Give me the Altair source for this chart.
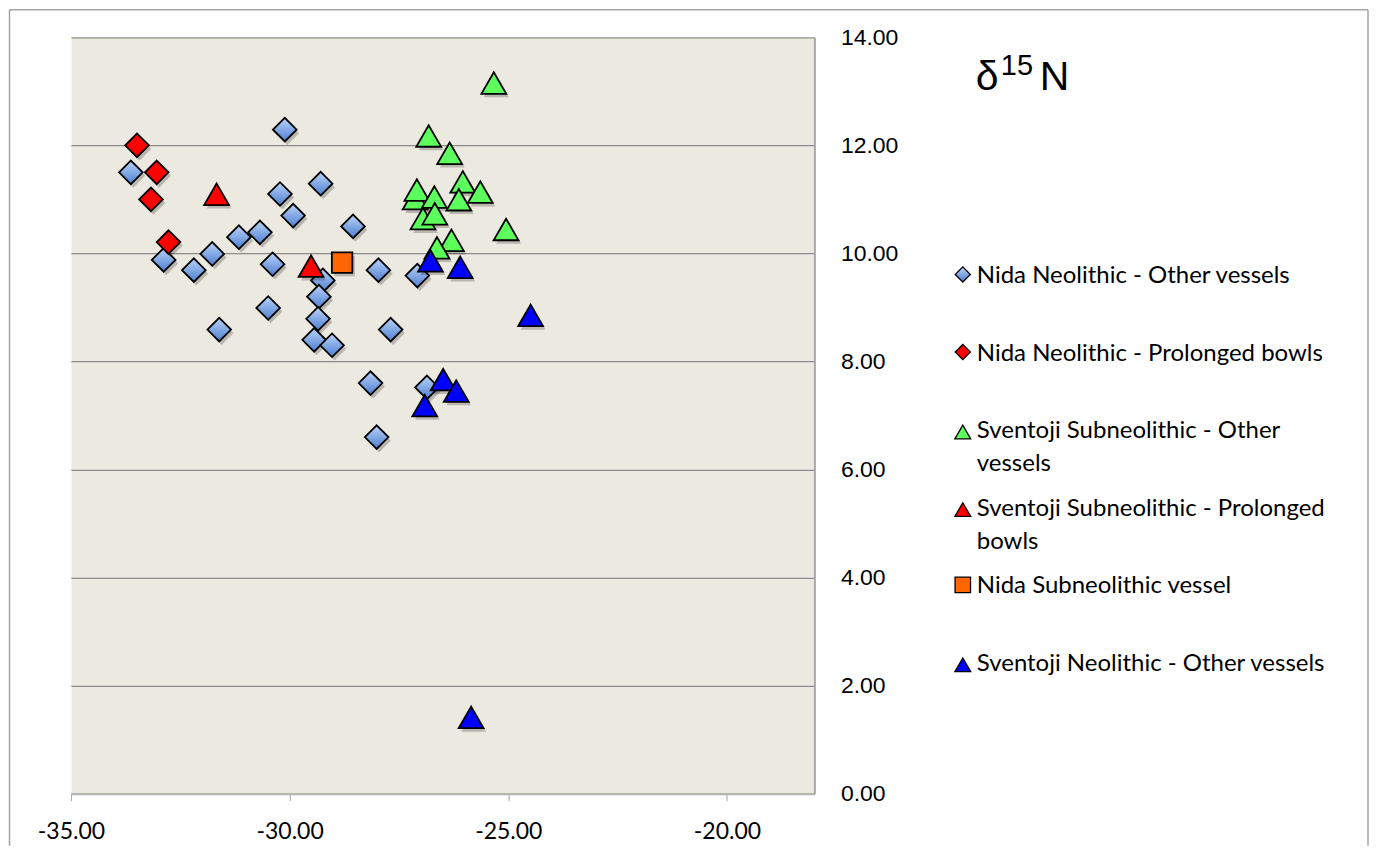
import altair as alt
import pandas as pd

# ---------------- data ----------------
series_names = [
    "Nida Neolithic - Other vessels",
    "Nida Neolithic - Prolonged bowls",
    "Sventoji Subneolithic - Other vessels",
    "Sventoji Subneolithic - Prolonged bowls",
    "Nida Subneolithic vessel",
    "Sventoji Neolithic - Other vessels",
]
legend_labels = [
    "Nida Neolithic - Other vessels",
    "Nida Neolithic - Prolonged bowls",
    "Sventoji Subneolithic - Other\nvessels",
    "Sventoji Subneolithic - Prolonged\nbowls",
    "Nida Subneolithic vessel",
    "Sventoji Neolithic - Other vessels",
]
legend_rows = [0, 1, 2, 3, 4, 5]

nida_other_x = [-30.11, -33.63, -29.29, -30.22, -29.92, -28.55, -30.68, -31.16, -31.77,
                -32.88, -32.19, -30.39, -29.24, -29.33, -29.35, -29.44, -29.03, -30.49,
                -31.61, -27.97, -27.08, -27.69, -28.15, -28.01, -26.86]
nida_other_y = [12.29, 11.50, 11.29, 11.10, 10.70, 10.50, 10.39, 10.30, 9.99,
                9.88, 9.69, 9.80, 9.50, 9.20, 8.79, 8.40, 8.30, 8.99,
                8.59, 9.69, 9.59, 8.59, 7.60, 6.60, 7.52]

nida_bowls_x = [-33.49, -33.04, -33.17, -32.77]
nida_bowls_y = [12.00, 11.50, 11.00, 10.21]

sv_sub_other_x = [-25.33, -26.82, -26.34, -26.04, -25.64, -27.13, -27.09, -26.69, -26.13,
                  -26.95, -26.68, -25.05, -26.30, -26.63]
sv_sub_other_y = [13.22, 12.24, 11.92, 11.39, 11.20, 11.08, 11.24, 11.11, 11.06,
                  10.71, 10.80, 10.51, 10.31, 10.17]

sv_sub_bowls_x = [-31.67, -29.51]
sv_sub_bowls_y = [11.16, 9.83]

nida_subneo_x = [-28.80]
nida_subneo_y = [9.83]

sv_neo_other_x = [-26.78, -26.10, -24.49, -26.49, -26.19, -26.91, -25.85]
sv_neo_other_y = [9.93, 9.81, 8.92, 7.73, 7.52, 7.25, 1.48]

x_ticks = [-35, -30, -25, -20]
y_ticks = [0, 2, 4, 6, 8, 10, 12, 14]

all_x = [nida_other_x, nida_bowls_x, sv_sub_other_x, sv_sub_bowls_x, nida_subneo_x, sv_neo_other_x]
all_y = [nida_other_y, nida_bowls_y, sv_sub_other_y, sv_sub_bowls_y, nida_subneo_y, sv_neo_other_y]

rows = []
for name, xs, ys in zip(series_names, all_x, all_y):
    for xv, yv in zip(xs, ys):
        rows.append({"series": name, "d13c": xv, "d15n": yv})
df = pd.DataFrame(rows)

legend_df = pd.DataFrame({"series": series_names, "label": legend_labels, "row": legend_rows})

# ---------------- styles ----------------
blue_gradient = {
    "gradient": "linear",
    "x1": 0, "y1": 0, "x2": 0, "y2": 1,
    "stops": [
        {"offset": 0, "color": "#B9D3F8"},
        {"offset": 1, "color": "#4D7FD1"},
    ],
}
styles = [
    {"shape": "diamond", "fill": blue_gradient, "size": 560, "dy": 0},
    {"shape": "diamond", "fill": "#FF0000", "size": 560, "dy": 0},
    {"shape": "triangle-up", "fill": "#5CFF5C", "size": 620, "dy": 3.6},
    {"shape": "triangle-up", "fill": "#FF0000", "size": 620, "dy": 3.6},
    {"shape": "square", "fill": "#FF6600", "size": 420, "dy": 0},
    {"shape": "triangle-up", "fill": "#0000FF", "size": 620, "dy": 3.6},
]
legend_sizes = [230, 230, 250, 250, 240, 250]
legend_dy = [0, 0, 2.3, 2.3, 0, 2.3]

# ---------------- main plot ----------------
x_enc = alt.X(
    "d13c:Q",
    scale=alt.Scale(domain=[-35, -18], nice=False, zero=False),
    axis=alt.Axis(
        values=x_ticks,
        labelExpr="(datum.value < 0 ? '-' : '') + format(abs(datum.value), '.2f')",
        labelFlush=False,
        grid=False,
        ticks=True,
        tickSize=7,
        tickColor="#A6A6A6",
        tickWidth=1,
        domain=True,
        domainColor="#B3B3B3",
        domainWidth=2,
        labelFont="Lato",
        labelFontSize=23,
        labelColor="#000000",
        labelPadding=20,
        title=None,
    ),
)
y_enc = alt.Y(
    "d15n:Q",
    scale=alt.Scale(domain=[0, 14], nice=False, zero=True),
    axis=alt.Axis(
        orient="right",
        values=y_ticks,
        format=".2f",
        grid=True,
        gridColor="#8C8C8C",
        gridWidth=1.3,
        ticks=False,
        domain=True,
        domainColor="#A8A8A8",
        domainWidth=2,
        labelFont="Liberation Sans",
        labelFontSize=23,
        labelColor="#000000",
        labelPadding=26,
        labelAlign="left",
        title=None,
    ),
)

layers = []
for name, st in zip(series_names, styles):
    base = alt.Chart(df).transform_filter(alt.datum.series == name)
    shadow = base.mark_point(
        shape=st["shape"], size=st["size"], filled=True, fill="#000000",
        opacity=0.22, strokeWidth=0, xOffset=2.5, yOffset=3.5 + st["dy"],
    ).encode(x=x_enc, y=y_enc)
    marker = base.mark_point(
        shape=st["shape"], size=st["size"], filled=True, fill=st["fill"],
        stroke="#000000", strokeWidth=1.8, opacity=1, yOffset=st["dy"],
    ).encode(x=x_enc, y=y_enc)
    layers += [shadow, marker]

# thin outer frame of the chart object (left, top, right edges)
frame_df = pd.DataFrame({"f": [0]})
frame_style = dict(color="#A3A3A3", strokeWidth=1.5)
frame_left = alt.Chart(frame_df).mark_rule(**frame_style).encode(
    x=alt.value(-61.5), y=alt.value(-27.5), y2=alt.value(809))
frame_top = alt.Chart(frame_df).mark_rule(**frame_style).encode(
    x=alt.value(-61.5), x2=alt.value(1298), y=alt.value(-27.5))
frame_right = alt.Chart(frame_df).mark_rule(**frame_style).encode(
    x=alt.value(1298), y=alt.value(-27.5), y2=alt.value(809))

main = alt.layer(frame_left, frame_top, frame_right, *layers).properties(
    width=744, height=757,
    view=alt.ViewBackground(fill="#ECEAE0", stroke="transparent"),
)

# ---------------- legend panel ----------------
leg_y = alt.Y(
    "row:Q",
    scale=alt.Scale(domain=[-3.055, 6.690], reverse=True, nice=False, zero=False),
    axis=None,
)
leg_layers = []
for i, (name, st) in enumerate(zip(series_names, styles)):
    leg_layers.append(
        alt.Chart(legend_df).transform_filter(alt.datum.series == name).mark_point(
            shape=st["shape"], size=legend_sizes[i], filled=True, fill=st["fill"],
            stroke="#000000", strokeWidth=1.3, opacity=1, yOffset=legend_dy[i],
        ).encode(x=alt.value(9), y=leg_y)
    )
leg_text = alt.Chart(legend_df).mark_text(
    align="left", baseline="top", dy=-10.5, font="Lato", fontSize=24,
    lineBreak="\n", lineHeight=33, color="#000000",
).encode(x=alt.value(23), y=leg_y, text="label:N")

title_parts = pd.DataFrame({"part": ["δ", "15", "N"]})
t_delta = alt.Chart(title_parts).transform_filter(alt.datum.part == "δ").mark_text(
    align="left", baseline="alphabetic", font="Liberation Sans", fontSize=41, color="#000000"
).encode(x=alt.value(22), y=alt.value(53), text="part:N")
t_sup = alt.Chart(title_parts).transform_filter(alt.datum.part == "15").mark_text(
    align="left", baseline="alphabetic", font="Liberation Sans", fontSize=29, color="#000000"
).encode(x=alt.value(47), y=alt.value(38), text="part:N")
t_n = alt.Chart(title_parts).transform_filter(alt.datum.part == "N").mark_text(
    align="left", baseline="alphabetic", font="Liberation Sans", fontSize=41, color="#000000"
).encode(x=alt.value(86), y=alt.value(53), text="part:N")

legend = alt.layer(*leg_layers, leg_text, t_delta, t_sup, t_n).properties(
    width=400, height=757,
    view=alt.ViewBackground(fill="transparent", stroke="transparent"),
)

chart = alt.hconcat(main, legend, spacing=139.5, bounds="flush").properties(
    padding={"left": 0, "top": 0, "right": 0, "bottom": 2},
    background="#FFFFFF",
)

chart.save("out.html", embed_options={"renderer": "svg", "actions": False})
